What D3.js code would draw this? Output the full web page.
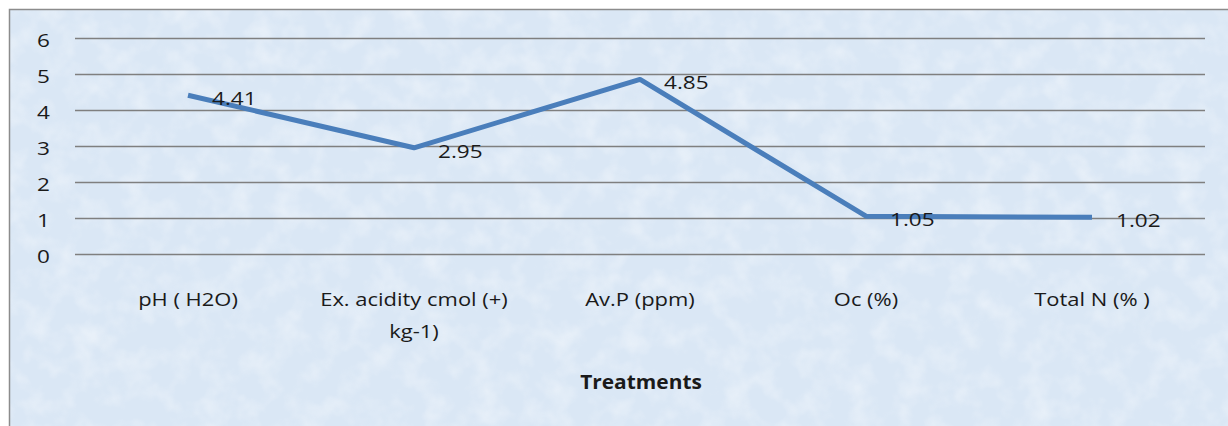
<!DOCTYPE html>
<html>
<head>
<meta charset="utf-8">
<script src="https://cdn.jsdelivr.net/npm/d3@7"></script>
<style>
  body { margin: 0; background: #fff; }
  svg { display: block; font-family: "Open Sans", "Noto Sans", sans-serif; }
</style>
</head>
<body>
<svg id="chart" width="1228" height="426"></svg>
<script>
const categories = ["pH ( H2O)", "Ex. acidity cmol (+) kg-1)", "Av.P (ppm)", "Oc (%)", "Total N (% )"];
const categoryLines = [["pH ( H2O)"], ["Ex. acidity cmol (+)", "kg-1)"], ["Av.P (ppm)"], ["Oc (%)"], ["Total N (% )"]];
const values = [4.41, 2.95, 4.85, 1.05, 1.02];
const labels = ["4.41", "2.95", "4.85", "1.05", "1.02"];
const yTicks = [0, 1, 2, 3, 4, 5, 6];

const svg = d3.select("#chart");
const width = +svg.attr("width");
const height = +svg.attr("height");
const stretch = 1.22; // the source text is drawn a bit wide

// textured light-blue background
const defs = svg.append("defs");
const filt = defs.append("filter").attr("id", "tex")
  .attr("filterUnits", "userSpaceOnUse")
  .attr("x", 0).attr("y", 0).attr("width", width).attr("height", height);
filt.append("feTurbulence").attr("type", "fractalNoise").attr("baseFrequency", 0.04)
  .attr("numOctaves", 3).attr("seed", 7).attr("result", "n");
filt.append("feColorMatrix").attr("in", "n").attr("type", "matrix")
  .attr("values", "0 0 0 0 1  0 0 0 0 1  0 0 0 0 1  2 0 0 0 -0.85");
filt.append("feComposite").attr("in2", "SourceGraphic").attr("operator", "in");

svg.append("rect").attr("x", 9).attr("y", 9).attr("width", width - 9).attr("height", height - 9)
  .attr("fill", "#dae7f5");
svg.append("rect").attr("x", 9).attr("y", 9).attr("width", width - 9).attr("height", height - 9)
  .attr("fill", "#fff").attr("filter", "url(#tex)").attr("opacity", 0.4);
svg.append("path").attr("d", `M9.5,${height} V9.5 H${width}`)
  .attr("fill", "none").attr("stroke", "#8c8c8c").attr("stroke-width", 1.5);

const x = d3.scaleBand().domain(categories).range([75, 1205]);
const y = d3.scaleLinear().domain([0, 6]).range([254, 38]);
const cx = i => x(categories[i]) + x.bandwidth() / 2;

const g = svg.append("g");

// grid
g.selectAll(".grid")
  .data(yTicks)
  .join("line")
  .attr("x1", 75).attr("x2", 1205)
  .attr("y1", d => Math.round(y(d)) + 0.5).attr("y2", d => Math.round(y(d)) + 0.5)
  .attr("stroke", "#7f7f7f").attr("stroke-width", 1.3);

// y tick labels
g.selectAll(".ytick")
  .data(yTicks)
  .join("text")
  .attr("transform", d => `translate(50,${y(d) + 8.5}) scale(${stretch},1)`)
  .attr("text-anchor", "end")
  .style("font-size", "18.5px").attr("fill", "#1a1a1a")
  .text(d => d);

// category labels
g.selectAll(".cat")
  .data(categories)
  .join("text")
  .attr("transform", (d, i) => `translate(${cx(i)},306) scale(${stretch},1)`)
  .attr("text-anchor", "middle")
  .style("font-size", "18px").attr("fill", "#1a1a1a")
  .each(function (d, i) {
    d3.select(this).selectAll("tspan")
      .data(categoryLines[i])
      .join("tspan")
      .attr("x", 0)
      .attr("y", (t, j) => j * 32)
      .text(t => t);
  });

// axis title
g.append("text")
  .attr("transform", `translate(641,389) scale(1.1,1)`)
  .attr("text-anchor", "middle")
  .style("font-size", "19px").style("font-weight", "bold").attr("fill", "#1a1a1a")
  .text("Treatments");

// line
const line = d3.line()
  .x((d, i) => cx(i))
  .y(d => y(d));

g.append("path")
  .datum(values)
  .attr("d", line)
  .attr("fill", "none")
  .attr("stroke", "#4a7ebb")
  .attr("stroke-width", 5)
  .attr("stroke-linejoin", "round");

// data labels
g.selectAll(".lbl")
  .data(values)
  .join("text")
  .attr("transform", (d, i) => `translate(${cx(i) + 24},${y(d) + 10}) scale(${stretch},1)`)
  .style("font-size", "18.5px").attr("fill", "#1a1a1a")
  .text((d, i) => labels[i]);
</script>
</body>
</html>
